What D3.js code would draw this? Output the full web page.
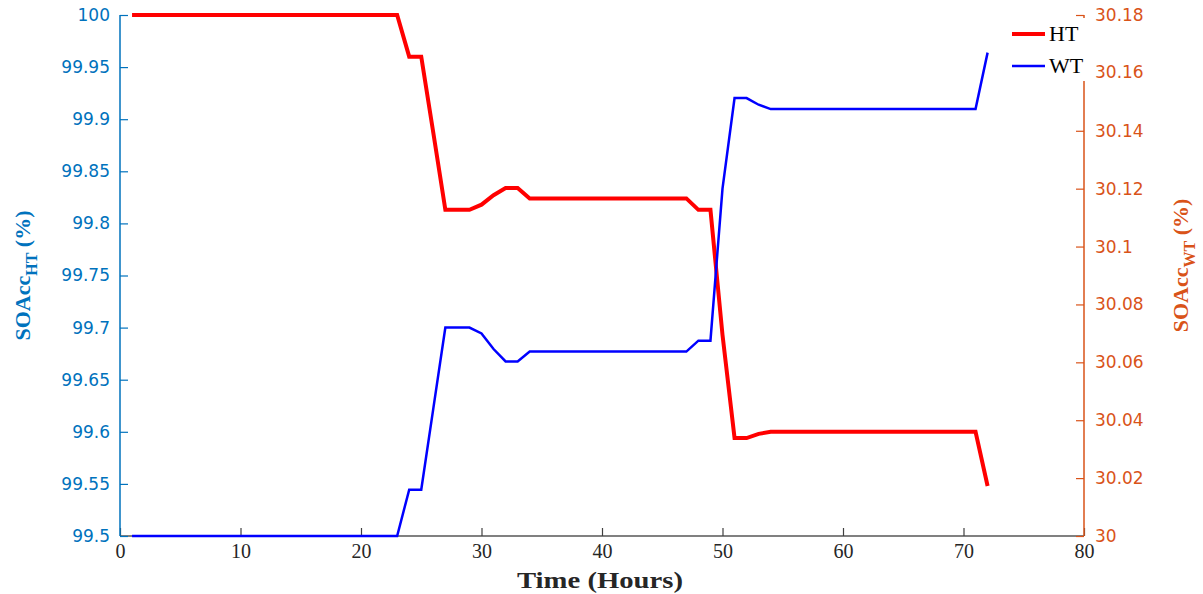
<!DOCTYPE html>
<html>
<head>
<meta charset="utf-8">
<script src="https://cdn.jsdelivr.net/npm/d3@7"></script>
<style>
  body { margin: 0; background: #fff; }
  .tick-y text { font-family: "DejaVu Sans", sans-serif; font-size: 17px; }
  .tick-x text { font-family: "Liberation Serif", serif; font-size: 20px; fill: #262626; }
</style>
</head>
<body>
<div class="chart"></div>
<script>
// hours on the x axis
var hours = [];
for (var h = 1; h <= 72; h++) hours.push(h);

// red line, read against the left axis
var htValues = [
  100, 100, 100, 100, 100, 100, 100, 100, 100, 100,
  100, 100, 100, 100, 100, 100, 100, 100, 100, 100,
  100, 100, 100, 99.96, 99.96, 99.887, 99.813, 99.813, 99.813, 99.818,
  99.827, 99.834, 99.834, 99.824, 99.824, 99.824, 99.824, 99.824, 99.824, 99.824,
  99.824, 99.824, 99.824, 99.824, 99.824, 99.824, 99.824, 99.813, 99.813, 99.693,
  99.594, 99.594, 99.598, 99.6, 99.6, 99.6, 99.6, 99.6, 99.6, 99.6,
  99.6, 99.6, 99.6, 99.6, 99.6, 99.6, 99.6, 99.6, 99.6, 99.6,
  99.6, 99.548
];

// blue line, read against the right axis
var wtValues = [
  30, 30, 30, 30, 30, 30, 30, 30, 30, 30,
  30, 30, 30, 30, 30, 30, 30, 30, 30, 30,
  30, 30, 30, 30.016, 30.016, 30.044, 30.072, 30.072, 30.072, 30.0700,
  30.0646, 30.0603, 30.0603, 30.0637, 30.0637, 30.0637, 30.0637, 30.0637, 30.0637, 30.0637,
  30.0637, 30.0637, 30.0637, 30.0637, 30.0637, 30.0637, 30.0637, 30.0675, 30.0675, 30.12,
  30.1513, 30.1513, 30.149, 30.1475, 30.1475, 30.1475, 30.1475, 30.1475, 30.1475, 30.1475,
  30.1475, 30.1475, 30.1475, 30.1475, 30.1475, 30.1475, 30.1475, 30.1475, 30.1475, 30.1475,
  30.1475, 30.167
];

var xTicks = [0, 10, 20, 30, 40, 50, 60, 70, 80];
var leftTicks = [99.5, 99.55, 99.6, 99.65, 99.7, 99.75, 99.8, 99.85, 99.9, 99.95, 100];
var rightTicks = [30, 30.02, 30.04, 30.06, 30.08, 30.1, 30.12, 30.14, 30.16, 30.18];

var svgWidth = 1203;
var svgHeight = 594;
var margin = { top: 15, right: 119, bottom: 58, left: 120 };
var width = svgWidth - margin.left - margin.right;
var height = svgHeight - margin.top - margin.bottom;

var leftColor = "#0072BD";
var rightColor = "#D95319";

var svg = d3.select(".chart")
  .append("svg")
  .attr("width", svgWidth)
  .attr("height", svgHeight);

var chart = svg.append("g")
  .attr("transform", "translate(" + margin.left + "," + margin.top + ")");

// Scales
var xScale = d3.scaleLinear().domain([0, 80]).range([0, width]);
var yLeft = d3.scaleLinear().domain([99.5, 100]).range([height, 0]);
var yRight = d3.scaleLinear().domain([30, 30.18]).range([height, 0]);

var fmt = function(d) { return String(+d.toFixed(2)); };

// Axes (ticks point inwards like the original)
var bottomAxis = d3.axisBottom(xScale).tickValues(xTicks).tickSize(-8).tickPadding(8).tickFormat(d3.format("d"));
var leftAxis = d3.axisLeft(yLeft).tickValues(leftTicks).tickSize(-8).tickPadding(10).tickFormat(fmt);
var rightAxis = d3.axisRight(yRight).tickValues(rightTicks).tickSize(-8).tickPadding(11).tickFormat(fmt);

var gx = chart.append("g")
  .attr("class", "tick-x")
  .attr("transform", "translate(0," + height + ")")
  .call(bottomAxis);
gx.select(".domain").attr("stroke", "#808080").attr("stroke-width", 2).attr("d", "M0,0H" + width);
gx.selectAll(".tick line").attr("stroke", "#404040").attr("stroke-width", 1.2);

var gl = chart.append("g")
  .attr("class", "tick-y")
  .call(leftAxis);
gl.select(".domain").attr("stroke", leftColor).attr("stroke-width", 1.5).attr("d", "M0,0V" + height);
gl.selectAll(".tick line").attr("stroke", leftColor).attr("stroke-width", 1.2);
gl.selectAll(".tick text").attr("fill", leftColor);

var gr = chart.append("g")
  .attr("class", "tick-y")
  .attr("transform", "translate(" + width + ",0)")
  .call(rightAxis);
gr.select(".domain").attr("stroke", rightColor).attr("stroke-width", 1.5).attr("d", "M0,0V" + height);
gr.selectAll(".tick line").attr("stroke", rightColor).attr("stroke-width", 1.2);
gr.selectAll(".tick text").attr("fill", rightColor);

// Lines
var htLine = d3.line()
  .x(function(d, i) { return xScale(hours[i]); })
  .y(function(d) { return yLeft(d); });

var wtLine = d3.line()
  .x(function(d, i) { return xScale(hours[i]); })
  .y(function(d) { return yRight(d); });

chart.append("path")
  .datum(htValues)
  .attr("fill", "none")
  .attr("stroke", "#FF0000")
  .attr("stroke-width", 4)
  .attr("d", htLine);

chart.append("path")
  .datum(wtValues)
  .attr("fill", "none")
  .attr("stroke", "#0000FF")
  .attr("stroke-width", 2.5)
  .attr("d", wtLine);

// Axis titles
var leftTitle = svg.append("text")
  .attr("transform", "translate(30," + (margin.top + height / 2) + ") rotate(-90)")
  .attr("text-anchor", "middle")
  .style("font-family", "Liberation Serif, serif")
  .style("font-weight", "bold")
  .style("font-size", "22px")
  .attr("fill", leftColor);
leftTitle.append("tspan").text("SOAcc");
leftTitle.append("tspan").attr("dy", 7).style("font-size", "16px").text("HT");
leftTitle.append("tspan").attr("dy", -7).text(" (%)");

var rightTitle = svg.append("text")
  .attr("transform", "translate(1188," + (margin.top + height / 2 - 10) + ") rotate(-90)")
  .attr("text-anchor", "middle")
  .style("font-family", "Liberation Serif, serif")
  .style("font-weight", "bold")
  .style("font-size", "22px")
  .attr("fill", rightColor);
rightTitle.append("tspan").text("SOAcc");
rightTitle.append("tspan").attr("dy", 7).style("font-size", "16px").text("WT");
rightTitle.append("tspan").attr("dy", -7).text(" (%)");

svg.append("text")
  .attr("x", 600)
  .attr("y", 588)
  .attr("text-anchor", "middle")
  .attr("textLength", 166)
  .attr("lengthAdjust", "spacingAndGlyphs")
  .style("font-family", "Liberation Serif, serif")
  .style("font-weight", "bold")
  .style("font-size", "23px")
  .attr("fill", "#262626")
  .text("Time (Hours)");

// Legend: white box that hides the top of the right axis
var legend = svg.append("g").attr("transform", "translate(1005,18)");
legend.append("rect")
  .attr("width", 88)
  .attr("height", 63)
  .attr("fill", "#fff");

var legendItems = [
  { name: "HT", color: "#FF0000", w: 4 },
  { name: "WT", color: "#0000FF", w: 2.5 }
];
legendItems.forEach(function(item, i) {
  var y = 16 + i * 32;
  legend.append("line")
    .attr("x1", 7).attr("x2", 40)
    .attr("y1", y).attr("y2", y)
    .attr("stroke", item.color)
    .attr("stroke-width", item.w);
  legend.append("text")
    .attr("x", 44)
    .attr("y", y + 7)
    .style("font-family", "Liberation Serif, serif")
    .style("font-size", "22px")
    .attr("fill", "#000")
    .text(item.name);
});

// the 30.16 tick label sits on top of the legend box in the original, so move it up front
var label3016 = gr.selectAll(".tick").filter(function(d) { return d === 30.16; }).select("text");
legend.append("text")
  .attr("x", width + 11 + margin.left - 1005)
  .attr("y", margin.top + yRight(30.16) - 18)
  .attr("dy", "0.32em")
  .style("font-family", "DejaVu Sans, sans-serif")
  .style("font-size", "17px")
  .attr("fill", rightColor)
  .text(label3016.text());
label3016.remove();
</script>
</body>
</html>
